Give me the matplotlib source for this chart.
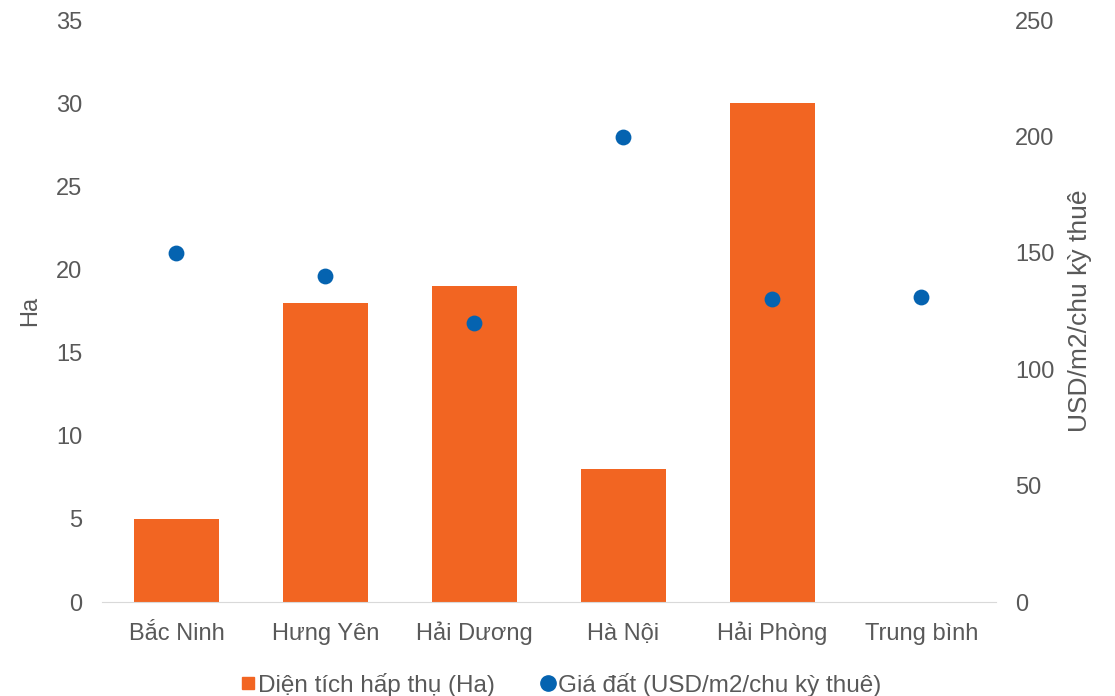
import matplotlib
matplotlib.use("Agg")
import matplotlib.pyplot as plt
from matplotlib.lines import Line2D
import numpy as np

plt.rcParams['font.family'] = ['Liberation Sans', 'DejaVu Sans']

categories = ["Bắc Ninh", "Hưng Yên", "Hải Dương", "Hà Nội", "Hải Phòng", "Trung bình"]
area_ha = [5, 18, 19, 8, 30, None]
price_usd = [150, 140, 120, 200, 130, 131]

bar_color = "#F26522"
dot_color = "#0563B0"
text_color = "#595959"

fig = plt.figure(figsize=(11.15, 6.96), dpi=100)
ax = fig.add_axes([0.0915, 0.135, 0.8015, 0.836])
ax2 = ax.twinx()

x = np.arange(len(categories))
bar_vals = [v if v is not None else 0 for v in area_ha]
ax.bar(x, bar_vals, width=0.57, color=bar_color, zorder=2)
ax2.scatter(x, price_usd, s=130, color=dot_color, zorder=3, linewidths=0)

ax.set_xlim(-0.5, len(categories) - 0.5)
ax.set_ylim(0, 35)
ax.set_yticks(range(0, 36, 5))
ax2.set_ylim(0, 250)
ax2.set_yticks(range(0, 251, 50))
ax.set_xticks(x)
ax.set_xticklabels(categories, va='baseline')

for a in (ax, ax2):
    for s in a.spines.values():
        s.set_visible(False)
    a.tick_params(length=0, labelsize=17, colors=text_color)
ax.spines['bottom'].set_visible(True)
ax.spines['bottom'].set_color("#D9D9D9")
ax.tick_params(axis='y', pad=14)
ax.tick_params(axis='x', pad=27)
ax2.tick_params(axis='y', pad=14)

ax.set_ylabel("Ha", fontsize=17, color=text_color, labelpad=11)
ax2.set_ylabel("USD/m2/chu kỳ thuê", fontsize=19, color=text_color, labelpad=10)

handles = [
    Line2D([], [], marker='s', linestyle='none', markersize=9, color=bar_color),
    Line2D([], [], marker='o', linestyle='none', markersize=11, color=dot_color),
]
labels = ["Diện tích hấp thụ (Ha)", "Giá đất (USD/m2/chu kỳ thuê)"]
fig.legend(handles, labels, loc='center', bbox_to_anchor=(0.502, 0.016), ncol=2,
           frameon=False, fontsize=17.5, labelcolor=text_color,
           handletextpad=0.0, columnspacing=1.8, handlelength=0.8)

fig.savefig("out.png", dpi=100)
